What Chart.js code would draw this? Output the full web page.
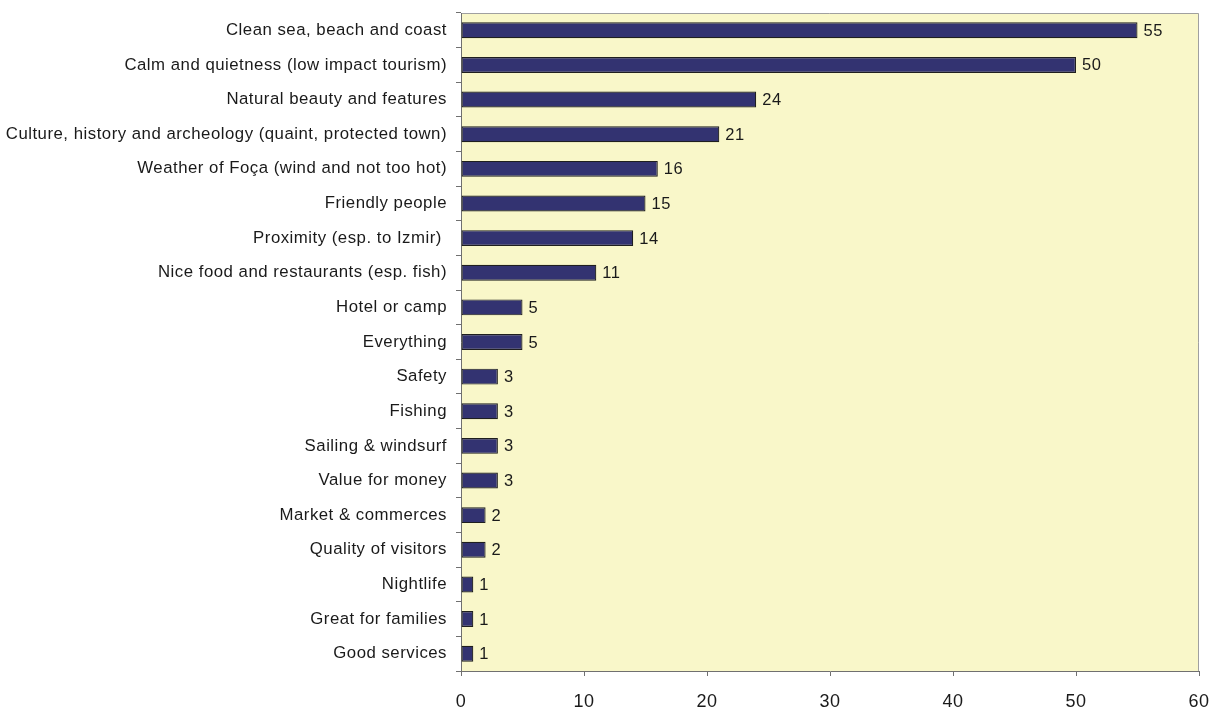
<!DOCTYPE html>
<html>
<head>
<meta charset="utf-8">
<script src="https://cdn.jsdelivr.net/npm/chart.js@4/dist/chart.umd.min.js"></script>
<style>
  html, body { margin: 0; padding: 0; background: #fff; }
  #wrap { width: 1214px; height: 710px; }
</style>
</head>
<body>
<div id="wrap"><canvas id="c" width="1214" height="710"></canvas></div>
<script>
const categories = [
  'Clean sea, beach and coast',
  'Calm and quietness (low impact tourism)',
  'Natural beauty and features',
  'Culture, history and archeology (quaint, protected town)',
  'Weather of Foça (wind and not too hot)',
  'Friendly people',
  'Proximity (esp. to Izmir) ',
  'Nice food and restaurants (esp. fish)',
  'Hotel or camp',
  'Everything',
  'Safety',
  'Fishing',
  'Sailing & windsurf',
  'Value for money',
  'Market & commerces',
  'Quality of visitors',
  'Nightlife',
  'Great for families',
  'Good services',
];
const counts = [55, 50, 24, 21, 16, 15, 14, 11, 5, 5, 3, 3, 3, 3, 2, 2, 1, 1, 1];
const xTicks = [0, 10, 20, 30, 40, 50, 60];

const FONT = '"Liberation Sans", Arial, sans-serif';

// pale yellow plot area with a grey frame; the source text is slightly spaced out
const plotBackground = {
  id: 'plotBackground',
  beforeDraw(chart) {
    const { ctx, chartArea: a } = chart;
    ctx.letterSpacing = '0.5px';
    ctx.save();
    ctx.fillStyle = '#f9f7c9';
    ctx.fillRect(a.left, a.top, a.right - a.left, a.bottom - a.top);
    ctx.strokeStyle = '#a0a0a0';
    ctx.lineWidth = 1;
    ctx.beginPath();
    ctx.moveTo(a.left, a.top + 0.5);
    ctx.lineTo(a.right - 0.5, a.top + 0.5);
    ctx.lineTo(a.right - 0.5, a.bottom);
    ctx.stroke();
    ctx.restore();
  },
};

// value written just after each bar
const valueLabels = {
  id: 'valueLabels',
  afterDatasetsDraw(chart) {
    const { ctx } = chart;
    const meta = chart.getDatasetMeta(0);
    ctx.save();
    ctx.font = `16.5px ${FONT}`;
    ctx.fillStyle = '#1a1a1a';
    ctx.textBaseline = 'middle';
    ctx.textAlign = 'left';
    meta.data.forEach((bar, i) => {
      ctx.fillText(String(counts[i]), bar.x + 6, bar.y + 1);
    });
    ctx.restore();
  },
};

new Chart(document.getElementById('c'), {
  type: 'bar',
  data: {
    labels: categories,
    datasets: [{
      data: counts,
      backgroundColor: '#333371',
      borderColor: '#1f1f1f',
      borderWidth: 1.2,
      borderSkipped: false,
      barPercentage: 0.46,
      categoryPercentage: 1,
    }],
  },
  plugins: [plotBackground, valueLabels],
  options: {
    indexAxis: 'y',
    responsive: false,
    animation: false,
    layout: { padding: { top: 13, right: 15, left: 0, bottom: 0 } },
    plugins: {
      legend: { display: false },
      tooltip: { enabled: false },
    },
    scales: {
      x: {
        min: 0,
        max: 60,
        afterBuildTicks: (scale) => {
          scale.ticks = xTicks.map((v) => ({ value: v }));
        },
        afterFit: (scale) => {
          scale.height = 39;
          scale.paddingLeft = 0;
          scale.paddingRight = 0;
        },
        border: { color: '#707070', width: 1 },
        grid: {
          drawOnChartArea: false,
          tickLength: 5,
          tickColor: '#707070',
        },
        ticks: {
          padding: 15,
          color: '#1a1a1a',
          font: { family: FONT, size: 18 },
        },
      },
      y: {
        afterFit: (scale) => {
          scale.width = 461;
          scale.paddingTop = 0;
          scale.paddingBottom = 0;
        },
        border: { color: '#707070', width: 1 },
        grid: {
          offset: true,
          drawOnChartArea: false,
          tickLength: 5,
          tickColor: '#707070',
        },
        ticks: {
          padding: 9,
          color: '#1a1a1a',
          font: { family: FONT, size: 16.8 },
          autoSkip: false,
        },
      },
    },
  },
});
</script>
</body>
</html>
